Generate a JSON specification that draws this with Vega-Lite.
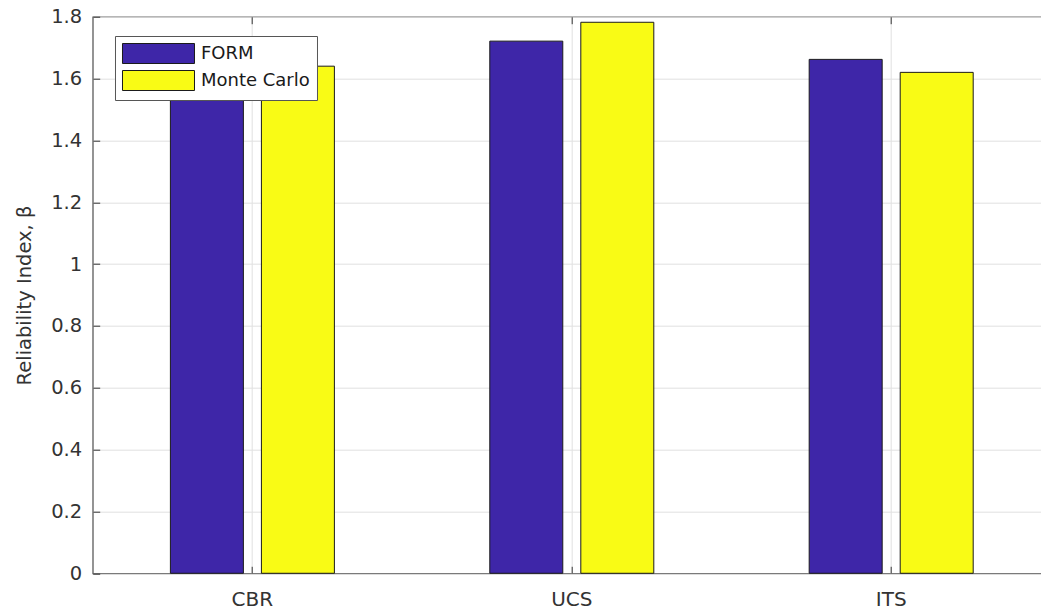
{
  "$schema": "https://vega.github.io/schema/vega-lite/v6.json",
  "autosize": "none",
  "width": 949,
  "height": 556.6,
  "padding": {"left": 92.7, "top": 16.7, "right": 0, "bottom": 36.7},
  "background": "white",
  "config": {
    "view": {"stroke": "#4d4d4d", "strokeWidth": 1.2},
    "font": "DejaVu Sans"
  },
  "data": {
    "values": [
      {"variable": "CBR", "method": "FORM", "beta": 1.66},
      {"variable": "CBR", "method": "Monte Carlo", "beta": 1.64},
      {"variable": "UCS", "method": "FORM", "beta": 1.721},
      {"variable": "UCS", "method": "Monte Carlo", "beta": 1.782},
      {"variable": "ITS", "method": "FORM", "beta": 1.662},
      {"variable": "ITS", "method": "Monte Carlo", "beta": 1.62}
    ]
  },
  "resolve": {"axis": {"x": "independent"}},
  "layer": [
    {
      "mark": {"type": "bar", "stroke": "#1a1a1a", "strokeWidth": 1},
      "encoding": {
        "x": {
          "field": "variable", "type": "nominal", "sort": ["CBR", "UCS", "ITS"],
          "scale": {"range": [0, 958.2], "paddingInner": 0.4865, "paddingOuter": 0.24325},
          "axis": {
            "title": null, "labelAngle": 0, "labelFontSize": 20, "labelColor": "#333333",
            "bandPosition": 0.5, "grid": true, "gridColor": "#e0e0e0", "gridWidth": 1,
            "tickSize": -7, "tickColor": "#333333", "domain": false, "labelPadding": 23
          }
        },
        "xOffset": {"field": "method", "type": "nominal", "scale": {"paddingInner": 0.198, "paddingOuter": 0}},
        "y": {
          "field": "beta", "type": "quantitative",
          "scale": {"domain": [0, 1.8], "nice": false},
          "axis": {
            "values": [0, 0.2, 0.4, 0.6, 0.8, 1, 1.2, 1.4, 1.6, 1.8],
            "format": "~g", "labelFontSize": 19.5, "labelColor": "#333333",
            "tickSize": -7, "tickColor": "#333333", "labelPadding": 18,
            "grid": true, "gridColor": "#e0e0e0", "domain": false,
            "title": "Reliability Index, β", "titleFontSize": 19.5, "titleFontWeight": "normal",
            "titleColor": "#333333", "titlePadding": 16
          }
        },
        "color": {
          "field": "method", "type": "nominal",
          "scale": {"domain": ["FORM", "Monte Carlo"], "range": ["#3e26a8", "#f9fb15"]},
          "legend": {
            "orient": "none", "legendX": 22.3, "legendY": 19.3, "title": null,
            "symbolType": "M-1,-1H6.2V1H-1Z", "symbolSize": 400,
            "symbolStrokeColor": "#1a1a1a", "symbolStrokeWidth": 1, "symbolOpacity": 1,
            "labelFontSize": 18, "labelColor": "#1a1a1a", "labelOffset": 58,
            "strokeColor": "#555555", "fillColor": "white", "padding": 7, "rowPadding": 2
          }
        }
      }
    },
    {
      "mark": {"type": "bar", "opacity": 0},
      "encoding": {
        "x": {
          "field": "variable", "type": "nominal", "sort": ["CBR", "UCS", "ITS"],
          "axis": {
            "orient": "top", "title": null, "labels": false, "grid": false, "domain": false,
            "bandPosition": 0.5, "tickSize": -7, "tickColor": "#333333"
          }
        }
      }
    }
  ]
}
